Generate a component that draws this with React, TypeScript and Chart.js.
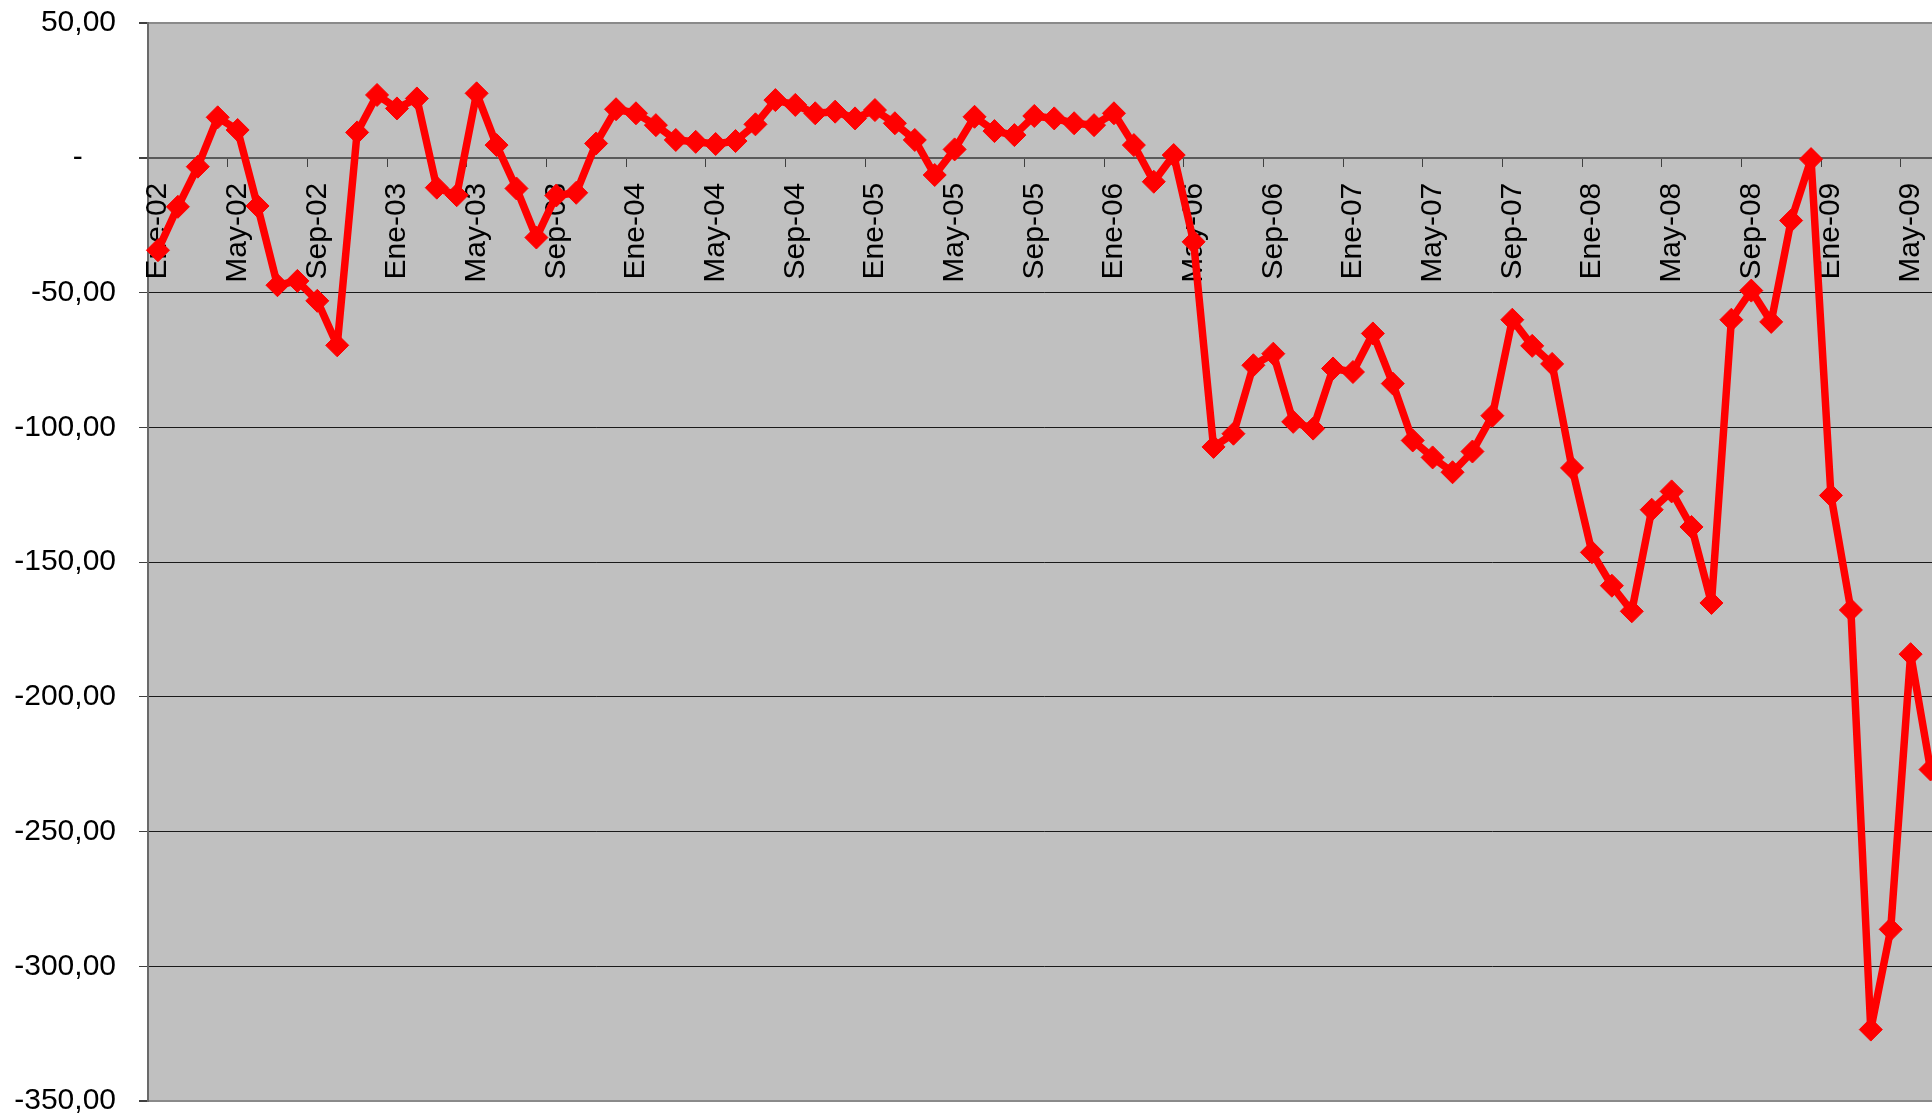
import React, { useEffect, useRef } from "react";
import { Chart, registerables } from "chart.js";

Chart.register(...registerables);

const categories: string[] = [
  "Ene-02", "Feb-02", "Mar-02", "Abr-02", "May-02", "Jun-02", "Jul-02", "Ago-02", "Sep-02", "Oct-02", "Nov-02", "Dic-02",
  "Ene-03", "Feb-03", "Mar-03", "Abr-03", "May-03", "Jun-03", "Jul-03", "Ago-03", "Sep-03", "Oct-03", "Nov-03", "Dic-03",
  "Ene-04", "Feb-04", "Mar-04", "Abr-04", "May-04", "Jun-04", "Jul-04", "Ago-04", "Sep-04", "Oct-04", "Nov-04", "Dic-04",
  "Ene-05", "Feb-05", "Mar-05", "Abr-05", "May-05", "Jun-05", "Jul-05", "Ago-05", "Sep-05", "Oct-05", "Nov-05", "Dic-05",
  "Ene-06", "Feb-06", "Mar-06", "Abr-06", "May-06", "Jun-06", "Jul-06", "Ago-06", "Sep-06", "Oct-06", "Nov-06", "Dic-06",
  "Ene-07", "Feb-07", "Mar-07", "Abr-07", "May-07", "Jun-07", "Jul-07", "Ago-07", "Sep-07", "Oct-07", "Nov-07", "Dic-07",
  "Ene-08", "Feb-08", "Mar-08", "Abr-08", "May-08", "Jun-08", "Jul-08", "Ago-08", "Sep-08", "Oct-08", "Nov-08", "Dic-08",
  "Ene-09", "Feb-09", "Mar-09", "Abr-09", "May-09", "Jun-09",
];

const values2002: number[] = [-34.3, -18.2, -3.3, 15.0, 10.3, -17.9, -47.3, -45.7, -53.1, -69.6, 9.4, 23.3];
const values2003: number[] = [18.3, 22.0, -11.1, -13.9, 23.9, 4.7, -11.4, -29.6, -14.0, -13.0, 5.3, 18.0];
const values2004: number[] = [16.5, 12.1, 6.6, 5.9, 5.1, 6.2, 12.4, 21.4, 19.6, 16.5, 17.1, 14.6];
const values2005: number[] = [17.7, 12.8, 6.6, -6.4, 3.1, 15.2, 9.9, 8.4, 15.5, 14.6, 12.8, 12.1];
const values2006: number[] = [16.5, 4.7, -8.9, 1.0, -31.2, -107.3, -102.4, -77.0, -72.7, -98.0, -100.5, -78.2];
const values2007: number[] = [-79.5, -65.2, -83.8, -104.9, -111.2, -116.7, -109.0, -95.7, -60.1, -69.8, -76.5, -115.1];
const values2008: number[] = [-146.4, -158.8, -168.3, -130.6, -123.8, -137.0, -165.2, -60.1, -49.3, -60.9, -23.3, -0.5];
const values2009: number[] = [-125.3, -167.8, -323.5, -286.3, -184.2, -227.0];

const seriesValues: number[] = [
  ...values2002, ...values2003, ...values2004, ...values2005,
  ...values2006, ...values2007, ...values2008, ...values2009,
];

const yMin = -350;
const yMax = 50;
const yStep = 50;
const labelEvery = 4;

function formatY(v: number): string {
  if (Math.abs(v) < 1e-9) return "-\u2007\u2007";
  return v.toFixed(2).replace(".", ",");
}

const plotBackground = {
  id: "plotBackground",
  beforeDraw(chart: any) {
    const { ctx, chartArea } = chart;
    ctx.save();
    ctx.fillStyle = "#C0C0C0";
    ctx.fillRect(chartArea.left, chartArea.top, chartArea.right - chartArea.left, chartArea.bottom - chartArea.top);
    ctx.restore();
  },
};

const CANVAS_W = 1953;
const CANVAS_H = 1117;

export default function App() {
  const canvasRef = useRef<HTMLCanvasElement | null>(null);

  useEffect(() => {
    document.body.style.margin = "0";
    const canvas = canvasRef.current;
    if (!canvas) return;
    Chart.defaults.font.family = "'Liberation Sans', Arial, sans-serif";
    const chart = new Chart(canvas, {
      type: "line",
      data: {
        labels: categories,
        datasets: [
          {
            data: seriesValues,
            borderColor: "#FF0000",
            backgroundColor: "#FF0000",
            borderWidth: 7.5,
            borderJoinStyle: "round",
            borderCapStyle: "round",
            tension: 0,
            pointStyle: "rectRot",
            pointRadius: 11.5,
            pointBorderWidth: 1,
            pointBackgroundColor: "#FF0000",
            pointBorderColor: "#FF0000",
          },
        ],
      },
      plugins: [plotBackground],
      options: {
        animation: false,
        responsive: false,
        devicePixelRatio: 1,
        layout: { padding: { left: 0, right: 0, top: 23, bottom: 16 } },
        plugins: { legend: { display: false }, tooltip: { enabled: false } },
        scales: {
          y: {
            type: "linear",
            min: yMin,
            max: yMax,
            afterFit: (scale: any) => {
              scale.width = 148;
              scale.paddingTop = 0;
              scale.paddingBottom = 0;
            },
            ticks: {
              stepSize: yStep,
              padding: 23,
              color: "#000",
              font: { size: 30 },
              callback: (v: any) => formatY(Number(v)),
            },
            grid: {
              color: (ctx: any) => {
                const v = ctx.tick ? ctx.tick.value : 0;
                if (v === yMax || v === yMin) return "#8A8A8A";
                if (v === 0) return "#5A5A5A";
                return "#1A1A1A";
              },
              lineWidth: (ctx: any) => {
                const v = ctx.tick ? ctx.tick.value : 0;
                if (v === yMax || v === yMin || v === 0) return 2;
                return 1;
              },
              tickColor: "#404040",
              tickLength: 9,
            },
            border: { display: true, color: "#6A6A6A", width: 2 },
          },
          x: {
            type: "category",
            position: { y: 0 } as any,
            offset: true,
            afterFit: (scale: any) => {
              scale.paddingLeft = 0;
              scale.paddingRight = 0;
              scale.paddingTop = 0;
              scale.paddingBottom = 0;
            },
            ticks: {
              autoSkip: false,
              minRotation: 90,
              maxRotation: 90,
              padding: 17,
              color: "#000",
              font: { size: 30 },
              callback: (_v: any, i: number) => (i % labelEvery === 0 ? categories[i] : ""),
            },
            grid: {
              offset: true,
              drawOnChartArea: false,
              drawTicks: true,
              tickLength: 8,
              color: (ctx: any) => (ctx.index % labelEvery === 0 ? "#404040" : "rgba(0,0,0,0)"),
            },
            border: { display: true, color: "#5A5A5A", width: 2 },
          },
        },
      },
    });
    return () => chart.destroy();
  }, []);

  return (
    <div style={{ position: "fixed", left: 0, top: 0, width: 1932, height: 1117, overflow: "hidden", background: "#fff" }}>
      <canvas ref={canvasRef} width={CANVAS_W} height={CANVAS_H} style={{ display: "block", width: CANVAS_W, height: CANVAS_H }} />
    </div>
  );
}
